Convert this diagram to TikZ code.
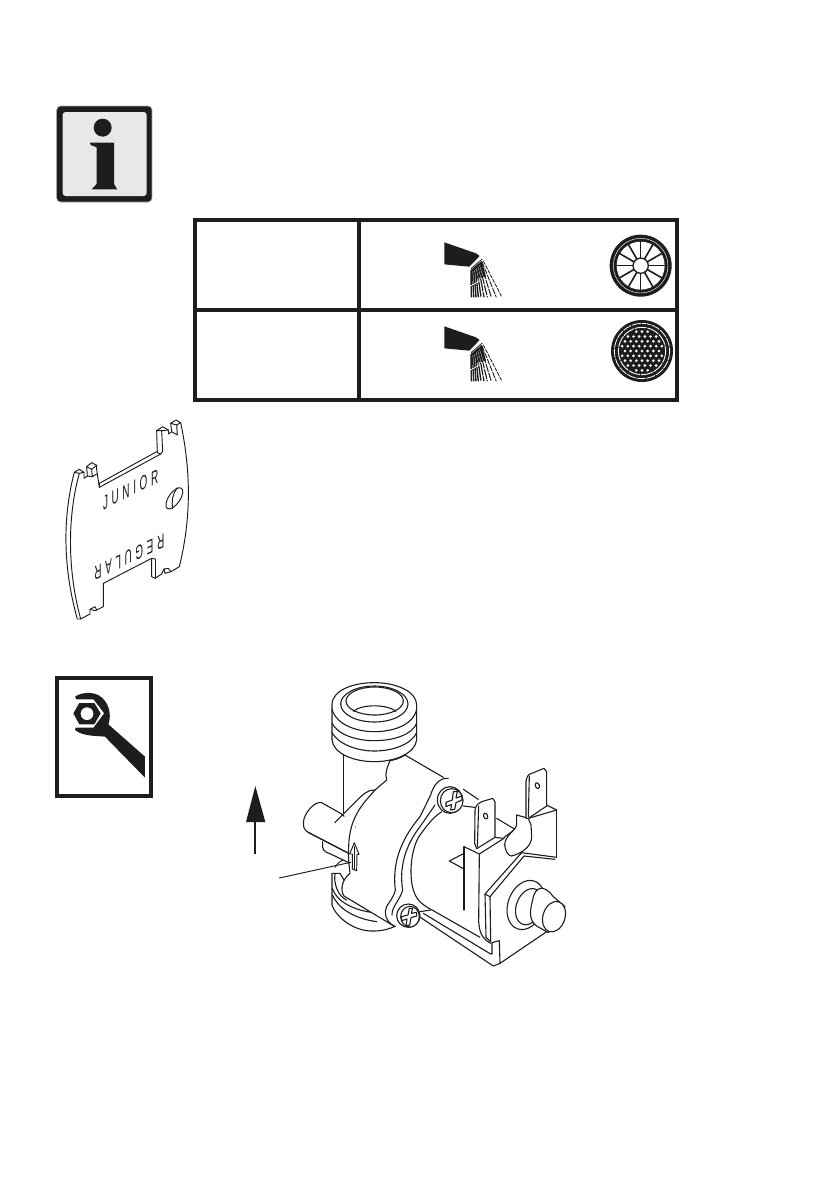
\documentclass[tikz,border=0pt]{standalone}
\usepackage{fontspec}
\setmainfont{Liberation Sans}
\newfontfamily\cardfont[LetterSpace=36]{Liberation Sans}
\usetikzlibrary{calc}
\definecolor{ink}{HTML}{1D1D1B}
\tikzset{
  frameline/.style={draw=ink,line width=4pt},
  ln/.style={draw=ink,line width=1.1pt,line join=round,line cap=round},
  thin ln/.style={draw=ink,line width=0.95pt,line join=round,line cap=round},
  wf/.style={ln,fill=white},
  z/.style args={#1/#2}{shift={(#1,#2)},scale=0.33333},
  cardtext/.style={inner sep=0pt,font=\cardfont\fontsize{20}{20}\selectfont,text=ink},
}
\begin{document}
\begin{tikzpicture}[x=1pt,y=-1pt]
\path[use as bounding box,fill=white] (0,0) rectangle (840,1192);

% ---------- info icon
\begin{scope}[z=40/90]
\draw[draw=ink!40,fill=ink,line width=0.6pt,rounded corners=4pt] (50,48) rectangle (336,336);
\fill[fill=ink!10,rounded corners=3pt] (68,66) rectangle (320,318);
\fill[ink] (188,113) circle (27);
\fill[ink] (150,158) -- (222,158) -- (222,282) -- (232,298) -- (155,298) -- (170,282) -- (170,172) -- (152,165) -- cycle;
\end{scope}

% ---------- table
\draw[frameline] (195,220) rectangle (677,400);
\draw[frameline] (359,220) -- (359,400);
\draw[frameline] (195,310) -- (677,310);

% ---------- sprays
\foreach \dy in {0,84}{
\begin{scope}[z=420/{220+\dy}]
\fill[ink] (73,67) -- (168,100) -- (179,108) -- (148,140) -- (73,133) -- cycle;
\coordinate (M1) at (153,146);
\coordinate (M2) at (187,117);
\draw[ink,line width=0.8pt] (M1) -- (M2);
\foreach \tt/\bx/\pat/\rw in {0/154/15/1.4,0.12/161/15/1.4,0.24/168/15/1.4,0.36/175/15/1.4,0.48/183/15/1.3,0.6/192/13/1.2,0.7/202/10/1.1,0.8/214/8/1,0.9/229/6/0.9,1/246/4/0.8}{
  \coordinate (S) at ($(M1)!\tt!(M2)$);
  \draw[ink,line width=\rw pt,dash pattern=on \pat pt off 1.1pt] ($(S)!0.05!(\bx,232)$) -- (\bx,232);
}
\fill[ink] ($(M1)+(0,4)$) -- ($(M1)!0.95!(M2)+(0,4)$) -- (198,170) -- (155,180) -- cycle;
\foreach \pp/\qq in {0.15/161,0.3/168,0.45/176,0.6/184,0.75/192}{\draw[white,line width=0.25pt] ($(M1)!\pp!(M2)+(0,12)$) -- (\qq,178);}
\end{scope}}

% ---------- wheel aerator
\begin{scope}[z=420/220]
\fill[ink] (662,137) circle (93);
\draw[white,line width=0.45pt] (662,137) circle (82);
\fill[white] (662,137) circle (72);
\foreach \a in {0,30,...,330}{\draw[ink,line width=1.6pt] (662,137) ++(\a:22) -- ++(\a:52);}
\draw[ink,line width=1.3pt] (662,137) circle (23);
\end{scope}

% ---------- mesh aerator
\begin{scope}[z=420/220]
\fill[ink] (666,393) circle (93);
\draw[white,line width=0.8pt,dash pattern=on 9pt off 1pt] (666,393) circle (83);
\draw[white,line width=0.9pt,dash pattern=on 12pt off 1pt] (666,393) circle (71);
\foreach \i in {-5,...,5}{\foreach \j in {-5,...,5}{
  \pgfmathsetmacro{\xx}{17*\j+8.5*mod(abs(\i),2)}
  \pgfmathsetmacro{\yy}{14.5*\i}
  \pgfmathtruncatemacro{\ok}{(\xx*\xx+\yy*\yy)<3900 ? 1 : 0}
  \ifnum\ok=1 \fill[white] (666+\xx,393+\yy) circle (4.3);\fi
}}
\end{scope}

% ---------- card
\begin{scope}[z=40/410]
\filldraw[thin ln,fill=white] (103,187) -- (118,178) -- (132,187) -- (132,205) -- (142,198) -- (140,170) -- (155,158) -- (170,166) -- (170,178)
  -- (178,232) -- (362,132) -- (352,128) -- (350,62) -- (368,50) -- (385,60) -- (386,72) -- (395,65) -- (392,40) -- (408,30) -- (422,38)
  .. controls (452,180) and (455,320) .. (418,470)
  -- (393,485) -- (385,475) -- (372,477) -- (365,492) -- (345,505) -- (335,500) -- (335,445) -- (190,520) -- (190,590)
  -- (170,600) -- (165,590) -- (150,598) -- (150,612) -- (122,627) -- (112,627) .. controls (68,470) and (68,320) .. (103,187) -- cycle;
\draw[thin ln] (118,190) .. controls (82,320) and (82,480) .. (122,627);
\draw[thin ln] (103,187) -- (118,190) -- (132,187);
\draw[thin ln] (178,220) -- (350,125);
\draw[thin ln] (178,220) -- (178,232);
\draw[thin ln] (155,178) -- (157,200) -- (170,192);
\draw[thin ln] (140,170) -- (155,178) -- (170,166);
\draw[thin ln] (157,200) -- (142,198);
\draw[thin ln] (365,62) -- (368,124) -- (362,132);
\draw[thin ln] (350,62) -- (365,62) -- (385,60);
\draw[thin ln] (392,40) -- (410,45) -- (422,38);
\draw[thin ln] (410,45) -- (412,75) -- (395,65);
\draw[thin ln] (345,447) -- (345,505);
\draw[thin ln] (335,445) -- (345,447);
\draw[thin ln] (150,598) -- (165,602) -- (170,600);
\draw[thin ln] (372,477) -- (375,490) -- (393,485);
\draw[thin ln,rotate around={-35:(403,265)}] (403,265) ellipse (17 and 37);
\draw[thin ln] (412,233) .. controls (398,250) and (394,275) .. (398,296);
\node[cardtext,cm={0.5,0.25,0,1,(0,0)}] (junior) at (272,238) {JUNIOR};
\node[cardtext,cm={-0.5,-0.235,0,-1,(0,0)}] (regular) at (268,441) {REGULAR};
\end{scope}

% ---------- wrench icon
\begin{scope}[z=40/665]
\draw[draw=ink,fill=white,line width=4.3pt] (52,40) rectangle (332,394);
\fill[ink] (105,95) .. controls (130,78) and (175,78) .. (195,108) .. controls (212,130) and (212,160) .. (205,178)
  -- (315,275) -- (315,338) -- (195,215) .. controls (170,212) and (130,215) .. (105,195) -- (108,183) -- (108,100) -- cycle;
\fill[white] (90,103) -- (160,103) -- (192,145) -- (160,188) -- (90,188) -- cycle;
\fill[ink] (100,145) -- (118,114) -- (163,114) -- (182,145) -- (163,178) -- (118,178) -- cycle;
\fill[white] (141,146) circle (19);
\end{scope}

% ---------- flow arrow
\begin{scope}[z=240/670]
\coordinate (flowfoot) at (46,552);
\coordinate (flowtip) at (46,440);
\draw[ink,line width=2pt] (flowfoot) -- (flowtip);
\fill[ink] (46,348) -- (76,456) -- (18,456) -- cycle;

% ---------- valve: left-hand part
% lower fitting
\filldraw[wf] (276,610) -- (276,705) .. controls (290,745) and (345,785) .. (400,783) .. controls (430,783) and (455,775) .. (472,765) -- (330,660) -- (300,610) -- cycle;
\draw[ln] (277,655) .. controls (290,695) and (340,720) .. (400,728);
\draw[ln] (277,675) .. controls (295,715) and (340,745) .. (410,755);
\draw[ln] (285,612) .. controls (280,640) and (295,680) .. (320,690);
% pipe
\draw[ln] (310,250) -- (310,430);
% top fitting
\filldraw[wf] (276,105) .. controls (276,60) and (340,38) .. (403,38) .. controls (470,38) and (530,65) .. (530,105)
  -- (530,210) .. controls (525,250) and (465,275) .. (403,275) .. controls (340,275) and (280,250) .. (276,210) -- cycle;
\draw[ln] (276,118) .. controls (290,165) and (350,185) .. (403,185) .. controls (460,185) and (520,165) .. (530,118);
\draw[ln] (276,160) .. controls (295,195) and (350,212) .. (403,212) .. controls (460,212) and (515,195) .. (530,160);
\draw[ln] (276,188) .. controls (295,222) and (350,243) .. (403,243) .. controls (460,243) and (515,222) .. (530,188);
\draw[ln] (403,102) ellipse (101 and 54);
\draw[ln] (404,93) ellipse (86 and 42);
\draw[ln] (340,124) .. controls (365,102) and (440,102) .. (468,124);
% body (white ground, outline drawn below)
\fill[white] (495,255) -- (700,400) -- (700,800) -- (465,770) -- (312,678) .. controls (300,660) and (305,630) .. (330,610) .. controls (322,540) and (325,470) .. (345,430) -- (405,360) -- (440,330) .. controls (432,310) and (445,285) .. (450,272) .. controls (465,270) and (485,262) .. (495,255) -- cycle;
% stub
\filldraw[wf] (305,432) -- (245,398) .. controls (225,392) and (190,430) .. (190,460) .. controls (190,478) and (198,484) .. (210,490) -- (326,550) -- (345,470) -- cycle;
\fill[white] (284,458) -- (345,420) -- (345,560) -- (326,550) -- cycle;
\draw[ln] (326,550) -- (205,487);
\draw[ln] (405,360) .. controls (385,358) and (370,372) .. (350,392) -- (284,458);
\draw[ln] (495,255) .. controls (485,262) and (465,270) .. (450,272) .. controls (445,285) and (432,310) .. (440,330) -- (405,360)
  .. controls (370,400) and (328,440) .. (326,530) .. controls (324,565) and (328,590) .. (330,610)
  .. controls (305,630) and (300,660) .. (312,678) -- (465,770);
\draw[ln] (248,515) -- (248,532) .. controls (250,545) and (262,548) .. (272,552) -- (326,578);
% arrow on body
\draw[thin ln] (343,518) -- (329,552) -- (337,552) -- (337,597) -- (350,602) -- (351,553) -- (357,553) -- cycle;
\draw[thin ln] (343,530) -- (343,598);
% leader
\coordinate (leaderend) at (118,624);
\coordinate (leadertip) at (332,577);
\draw[thin ln] (leaderend) -- (leadertip);
\draw[thin ln] (285,592) .. controls (290,582) and (298,575) .. (308,570);
\end{scope}

% ---------- valve: right-hand part
\begin{scope}[z=400/750]
\draw[ln] (15,15) -- (130,82);
% flange curves
\draw[ln] (-14,530) .. controls (-35,520) and (-44,505) .. (-44,485) .. controls (-45,465) and (-20,450) .. (-14,420)
  .. controls (-25,330) and (10,260) .. (60,200) -- (92,135) .. controls (100,105) and (120,82) .. (145,85);
\draw[ln] (-24,495) .. controls (-25,470) and (0,450) .. (8,420) .. controls (-5,340) and (25,275) .. (60,230) -- (105,165);
\draw[ln] (125,185) .. controls (95,205) and (75,235) .. (60,255) .. controls (35,290) and (25,370) .. (40,420) .. controls (48,445) and (60,462) .. (100,482);
% screws
\filldraw[wf] (150,150) ellipse (38 and 40);
\draw[wf] (155,152) ellipse (34 and 36);
\draw[ln,fill=white] (160,125) -- (172,125) -- (168,144) -- (186,138) -- (186,150) -- (168,158) -- (164,178) -- (152,180) -- (155,163) -- (138,170) -- (138,157) -- (157,150) -- cycle;
\draw[ln] (190,118) -- (235,148);
\draw[ln] (190,168) -- (225,172);
\filldraw[wf] (25,497) circle (35);
\draw[wf] (30,500) ellipse (28 and 31);
\draw[ln,fill=white] (28,475) -- (38,475) -- (34,490) -- (50,487) -- (50,498) -- (33,503) -- (29,525) -- (18,527) -- (21,507) -- (5,512) -- (5,500) -- (24,495) -- cycle;
% bracket ground
\fill[white] (192,290) -- (350,195) -- (385,205) -- (470,180) -- (470,400) -- (470,520) -- (300,640) -- (280,648) -- (230,560) -- (192,480) -- cycle;
\fill[white] (148,333) -- (192,310) -- (192,357) -- cycle;
% flange foot
\draw[ln] (58,500) -- (280,648) -- (300,640) -- (440,545);
\draw[ln] (60,485) -- (92,480);
\draw[ln] (70,490) -- (272,612) -- (276,612) -- (276,578) -- (298,572) -- (300,640);
\draw[ln] (100,482) -- (240,562);
\draw[ln] (148,333) -- (192,310);
\draw[ln] (148,333) -- (192,357);
\draw[ln] (192,290) -- (192,480);
\draw[ln] (192,290) -- (238,312) -- (312,265);
\draw[ln] (238,312) -- (236,515) .. controls (238,545) and (245,565) .. (272,580);
% connecting strap
\draw[ln] (290,205) -- (345,238) -- (312,262);
\draw[wf] (350,195) -- (350,225) .. controls (345,245) and (315,255) .. (314,285) .. controls (316,305) and (325,318) .. (335,318) .. controls (365,310) and (395,290) .. (395,260) -- (393,225) -- (385,205);
\draw[ln] (350,195) -- (385,205);
\draw[ln] (385,205) -- (470,180) -- (440,165);
\draw[ln] (470,180) -- (470,322);
% front plate
\draw[ln] (258,562) -- (255,432) -- (365,308) -- (470,322);
\draw[ln] (258,562) -- (272,575);
\draw[ln] (272,575) -- (270,440) -- (255,432);
\draw[ln] (270,440) -- (372,318) -- (465,328);
% button
\filldraw[wf,rotate around={-20:(378,465)}] (378,465) ellipse (54 and 76);
\draw[ln,rotate around={-20:(387,470)}] (387,470) ellipse (38 and 56);
\filldraw[wf] (398,450) .. controls (405,405) and (435,405) .. (460,440) -- (495,470) -- (445,548) -- (410,528) .. controls (385,510) and (390,480) .. (398,450);
\filldraw[wf,rotate around={-18:(462,500)}] (462,500) ellipse (33 and 47);
% terminals
\filldraw[wf] (378,205) -- (378,95) .. controls (380,80) and (385,72) .. (395,70) -- (432,55) -- (440,65) -- (440,168) -- (385,205) -- cycle;
\draw[ln] (388,78) -- (385,200);
\filldraw[wf,rotate around={20:(412,107)}] (412,107) ellipse (6 and 9);
\filldraw[wf] (224,280) -- (225,180) .. controls (228,165) and (235,158) .. (245,155) -- (278,145) -- (285,155) -- (285,262) -- (230,296) -- cycle;
\draw[ln] (236,168) -- (232,290);
\filldraw[wf,rotate around={20:(257,198)}] (257,198) ellipse (6 and 9);
\draw[ln] (285,262) -- (312,265);
\end{scope}
\end{tikzpicture}
\end{document}
